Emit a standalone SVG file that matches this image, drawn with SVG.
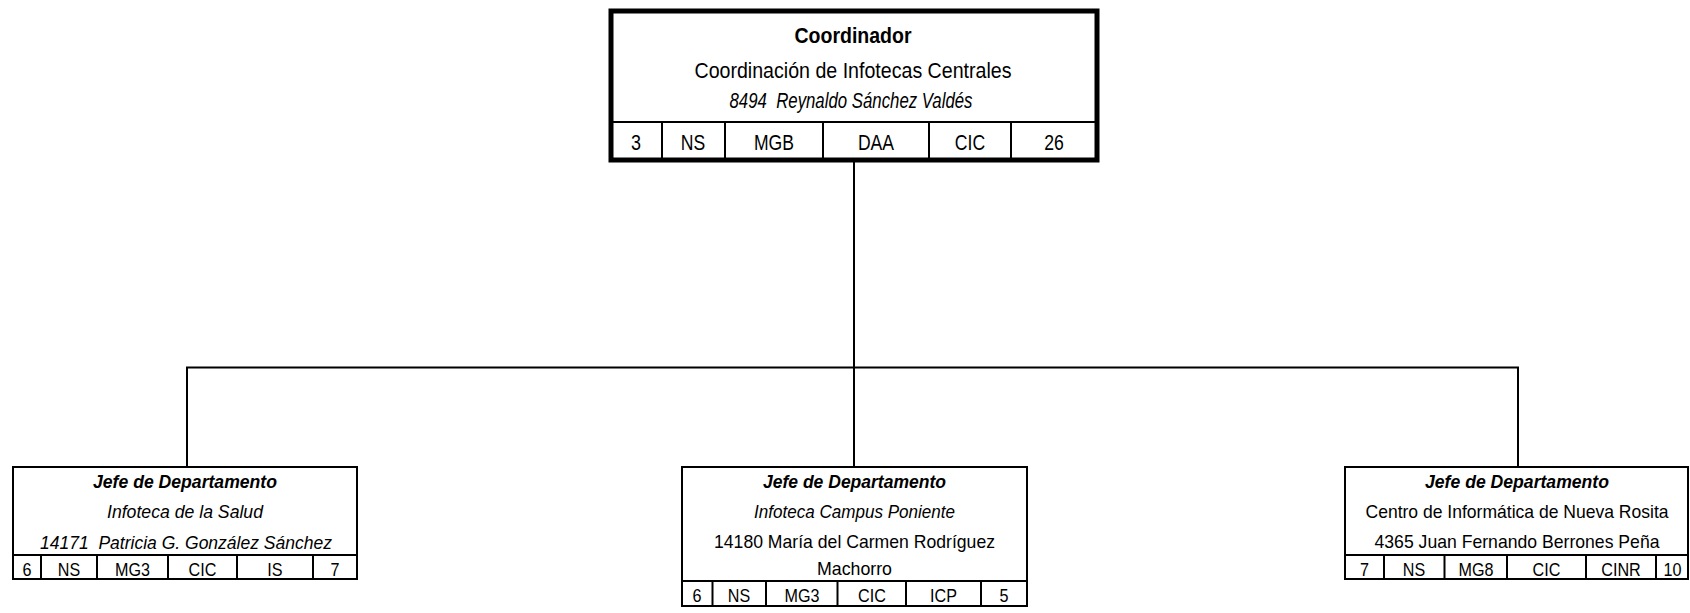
<svg xmlns="http://www.w3.org/2000/svg" width="1690" height="613" viewBox="0 0 1690 613">
<style>
text{font-family:"Liberation Sans",Arial,sans-serif;fill:#000;text-anchor:middle}
.box{fill:#fff;stroke:#000;stroke-width:2}
.top{fill:#fff;stroke:#000;stroke-width:5}
.div{stroke:#000;stroke-width:2;fill:none}
.conn{stroke:#000;stroke-width:2;fill:none}
.t22{font-size:22px}
.t19{font-size:19px}
.b{font-weight:bold}
.i{font-style:italic}
</style>
<rect width="1690" height="613" fill="#fff"/>
<g id="connectors">
<line class="conn" x1="854" y1="162" x2="854" y2="467"/>
<line class="conn" x1="186" y1="367.5" x2="1519" y2="367.5"/>
<line class="conn" x1="187" y1="367" x2="187" y2="467"/>
<line class="conn" x1="1518" y1="367" x2="1518" y2="467"/>
</g>
<g id="coordinador">
<rect class="top" x="611" y="11" width="486" height="149"/>
<line class="div" x1="611" y1="122" x2="1097" y2="122"/>
<line class="div" x1="662" y1="122" x2="662" y2="160"/>
<line class="div" x1="725" y1="122" x2="725" y2="160"/>
<line class="div" x1="823" y1="122" x2="823" y2="160"/>
<line class="div" x1="929" y1="122" x2="929" y2="160"/>
<line class="div" x1="1011" y1="122" x2="1011" y2="160"/>
<text class="t22 b" x="853" y="43" textLength="117" lengthAdjust="spacingAndGlyphs">Coordinador</text>
<text class="t22" x="853" y="78" textLength="317" lengthAdjust="spacingAndGlyphs">Coordinación de Infotecas Centrales</text>
<text class="t22 i" x="851" y="108" textLength="243" lengthAdjust="spacingAndGlyphs" xml:space="preserve">8494  Reynaldo Sánchez Valdés</text>
<g class="t22">
<text x="636" y="150" textLength="10" lengthAdjust="spacingAndGlyphs">3</text>
<text x="693" y="150" textLength="24.4" lengthAdjust="spacingAndGlyphs">NS</text>
<text x="774" y="150" textLength="40" lengthAdjust="spacingAndGlyphs">MGB</text>
<text x="876" y="150" textLength="36.2" lengthAdjust="spacingAndGlyphs">DAA</text>
<text x="970" y="150" textLength="30.3" lengthAdjust="spacingAndGlyphs">CIC</text>
<text x="1054" y="150" textLength="19.6" lengthAdjust="spacingAndGlyphs">26</text>
</g>
</g>
<g id="jefe-salud">
<rect class="box" x="13" y="467" width="344" height="112"/>
<line class="div" x1="13" y1="555" x2="357" y2="555"/>
<line class="div" x1="41" y1="555" x2="41" y2="579"/>
<line class="div" x1="97" y1="555" x2="97" y2="579"/>
<line class="div" x1="168" y1="555" x2="168" y2="579"/>
<line class="div" x1="237" y1="555" x2="237" y2="579"/>
<line class="div" x1="313" y1="555" x2="313" y2="579"/>
<text class="t19 b i" x="185" y="488" textLength="184" lengthAdjust="spacingAndGlyphs">Jefe de Departamento</text>
<text class="t19 i" x="185" y="518" textLength="156" lengthAdjust="spacingAndGlyphs">Infoteca de la Salud</text>
<text class="t19 i" x="186" y="549" textLength="292" lengthAdjust="spacingAndGlyphs" xml:space="preserve">14171  Patricia G. González Sánchez</text>
<g class="t19">
<text x="27" y="576" textLength="9" lengthAdjust="spacingAndGlyphs">6</text>
<text x="69" y="576" textLength="22.4" lengthAdjust="spacingAndGlyphs">NS</text>
<text x="132.5" y="576" textLength="35" lengthAdjust="spacingAndGlyphs">MG3</text>
<text x="202.5" y="576" textLength="27.8" lengthAdjust="spacingAndGlyphs">CIC</text>
<text x="275" y="576" textLength="15.3" lengthAdjust="spacingAndGlyphs">IS</text>
<text x="335" y="576" textLength="9" lengthAdjust="spacingAndGlyphs">7</text>
</g>
</g>
<g id="jefe-poniente">
<rect class="box" x="682" y="467" width="345" height="139"/>
<line class="div" x1="682" y1="581" x2="1027" y2="581"/>
<line class="div" x1="712.5" y1="581" x2="712.5" y2="606"/>
<line class="div" x1="766" y1="581" x2="766" y2="606"/>
<line class="div" x1="837.5" y1="581" x2="837.5" y2="606"/>
<line class="div" x1="906" y1="581" x2="906" y2="606"/>
<line class="div" x1="981" y1="581" x2="981" y2="606"/>
<text class="t19 b i" x="854.5" y="488" textLength="183" lengthAdjust="spacingAndGlyphs">Jefe de Departamento</text>
<text class="t19 i" x="854.5" y="518" textLength="201" lengthAdjust="spacingAndGlyphs">Infoteca Campus Poniente</text>
<text class="t19" x="854.5" y="548" textLength="281" lengthAdjust="spacingAndGlyphs">14180 María del Carmen Rodríguez</text>
<text class="t19" x="854.5" y="575" textLength="75" lengthAdjust="spacingAndGlyphs">Machorro</text>
<g class="t19">
<text x="697" y="602" textLength="9" lengthAdjust="spacingAndGlyphs">6</text>
<text x="739" y="602" textLength="22.4" lengthAdjust="spacingAndGlyphs">NS</text>
<text x="802" y="602" textLength="35" lengthAdjust="spacingAndGlyphs">MG3</text>
<text x="872" y="602" textLength="27.8" lengthAdjust="spacingAndGlyphs">CIC</text>
<text x="943.5" y="602" textLength="26.9" lengthAdjust="spacingAndGlyphs">ICP</text>
<text x="1004" y="602" textLength="9" lengthAdjust="spacingAndGlyphs">5</text>
</g>
</g>
<g id="jefe-nueva-rosita">
<rect class="box" x="1345" y="467" width="343" height="112"/>
<line class="div" x1="1345" y1="555" x2="1688" y2="555"/>
<line class="div" x1="1384" y1="555" x2="1384" y2="579"/>
<line class="div" x1="1444.5" y1="555" x2="1444.5" y2="579"/>
<line class="div" x1="1507" y1="555" x2="1507" y2="579"/>
<line class="div" x1="1586" y1="555" x2="1586" y2="579"/>
<line class="div" x1="1656" y1="555" x2="1656" y2="579"/>
<text class="t19 b i" x="1517" y="488" textLength="184" lengthAdjust="spacingAndGlyphs">Jefe de Departamento</text>
<text class="t19" x="1517" y="518" textLength="303" lengthAdjust="spacingAndGlyphs">Centro de Informática de Nueva Rosita</text>
<text class="t19" x="1517" y="548" textLength="285" lengthAdjust="spacingAndGlyphs">4365 Juan Fernando Berrones Peña</text>
<g class="t19">
<text x="1364.5" y="576" textLength="9" lengthAdjust="spacingAndGlyphs">7</text>
<text x="1414" y="576" textLength="22.4" lengthAdjust="spacingAndGlyphs">NS</text>
<text x="1476" y="576" textLength="35" lengthAdjust="spacingAndGlyphs">MG8</text>
<text x="1546.5" y="576" textLength="27.8" lengthAdjust="spacingAndGlyphs">CIC</text>
<text x="1621" y="576" textLength="39.5" lengthAdjust="spacingAndGlyphs">CINR</text>
<text x="1672.5" y="576" textLength="18" lengthAdjust="spacingAndGlyphs">10</text>
</g>
</g>
</svg>
